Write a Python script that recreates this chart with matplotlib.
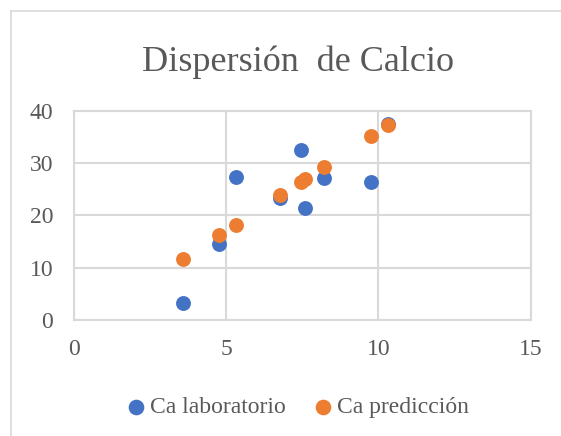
import matplotlib.pyplot as plt
from matplotlib.lines import Line2D

# data
x_vals = [3.57, 4.76, 5.33, 6.78, 7.46, 7.59, 8.21, 9.75, 10.32]
ca_lab = [3.2, 14.6, 27.3, 23.3, 32.4, 21.5, 27.2, 26.4, 37.5]
ca_pred = [11.7, 16.2, 18.2, 23.9, 26.4, 26.9, 29.2, 35.2, 37.2]
x_ticks = [0, 5, 10, 15]
y_ticks = [0, 10, 20, 30, 40]

plt.rcParams['font.family'] = ['Liberation Serif', 'DejaVu Serif']
grey = '#595959'
grid_c = '#d9d9d9'

W, H = 561, 436
fig = plt.figure(figsize=(W / 100, H / 100), dpi=100)

# chart area border (only top and left edges are inside the picture)
bx, by = 10.5 / W, 1 - 11.5 / H
fig.add_artist(Line2D([bx, bx], [0, by], transform=fig.transFigure, color=grid_c, lw=1.2))
fig.add_artist(Line2D([bx, 1], [by, by], transform=fig.transFigure, color=grid_c, lw=1.2))

ax = fig.add_axes([74 / W, 1 - 320 / H, (530.7 - 74) / W, (320 - 110.7) / H])

ax.scatter(x_vals, ca_lab, s=115, color='#4472C4', label='Ca laboratorio', zorder=3, linewidths=0)
ax.scatter(x_vals, ca_pred, s=115, color='#ED7D31', label='Ca predicción', zorder=3, linewidths=0)

ax.set_xlim(0, 15)
ax.set_ylim(0, 40)
ax.set_xticks(x_ticks)
ax.set_yticks(y_ticks)
ax.grid(True, color=grid_c, linewidth=1.5)
ax.set_axisbelow(True)
for s in ax.spines.values():
    s.set_color(grid_c)
    s.set_linewidth(1.5)
ax.tick_params(length=0, labelsize=17, labelcolor=grey)
ax.tick_params(axis='y', pad=15)
ax.tick_params(axis='x', pad=14)

fig.text(0.531, 1 - 62 / H, 'Dispersión  de Calcio', ha='center', va='center', fontsize=26, color=grey)

fig.legend(loc='center', bbox_to_anchor=(0.531, 1 - 407 / H), ncol=2, frameon=False,
           fontsize=17, labelcolor=grey, handlelength=0.8, handletextpad=0.2,
           columnspacing=1.17, markerscale=1.05)

fig.savefig('out.png', dpi=100)
